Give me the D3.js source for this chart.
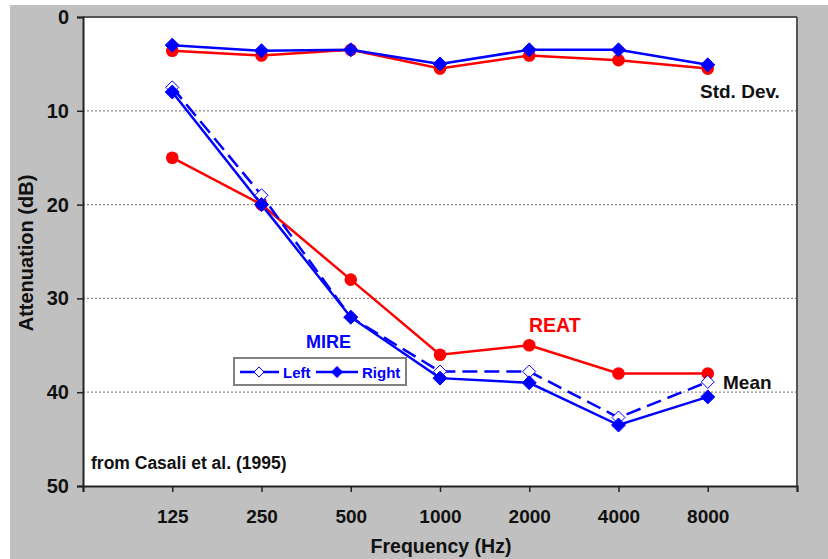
<!DOCTYPE html>
<html>
<head>
<meta charset="utf-8">
<script src="https://cdn.jsdelivr.net/npm/d3@7"></script>
<style>
  html, body { margin: 0; padding: 0; background: #fff; }
  svg { display: block; }
  text { font-family: "Liberation Sans", Arial, sans-serif; font-weight: bold; }
</style>
</head>
<body>
<svg id="chart" width="828" height="559"></svg>
<script>
// ---- data ----
const categories = ["125", "250", "500", "1000", "2000", "4000", "8000"];
const yTicks = [0, 10, 20, 30, 40, 50];
const reatMean = [15, 20, 28, 36, 35, 38, 38];
const mireLeftMean = [7.5, 19, 32, 37.8, 37.8, 42.7, 38.9];
const mireRightMean = [8, 20, 32, 38.5, 39, 43.5, 40.5];
const reatSD = [3.6, 4.1, 3.5, 5.5, 4.1, 4.6, 5.5];
const mireSD = [3, 3.6, 3.5, 5, 3.5, 3.5, 5.1];

(function () {
const svg = d3.select("#chart");
const W = 828, H = 559;
const pL = 83, pR = 797, pT = 17, pB = 486;
const BLUE = "#0000ff", RED = "#ff0000";

// background
svg.append("rect").attr("x", 0).attr("y", 0).attr("width", W).attr("height", H).attr("fill", "#fff");
svg.append("rect").attr("x", 10).attr("y", 5).attr("width", W - 10).attr("height", H - 5).attr("fill", "#c0c0c0");
svg.append("rect").attr("x", pL).attr("y", pT).attr("width", pR - pL).attr("height", pB - pT).attr("fill", "#fff");

// scales
const x = d3.scaleLinear().domain([0, 8]).range([pL, pR]);
const y = d3.scaleLinear().domain([0, 50]).range([pT, pB]);
const xi = i => x(i + 1);

// grid
svg.append("g").selectAll("line").data([10, 20, 30, 40]).join("line")
  .attr("x1", pL).attr("x2", pR)
  .attr("y1", d => y(d)).attr("y2", d => y(d))
  .attr("stroke", "#8a8a8a").attr("stroke-width", 1.2).attr("stroke-dasharray", "2,2");

// border top/right
svg.append("line").attr("x1", pL).attr("x2", pR).attr("y1", pT).attr("y2", pT)
  .attr("stroke", "#555").attr("stroke-width", 2);
svg.append("line").attr("x1", pR).attr("x2", pR).attr("y1", pT).attr("y2", pB)
  .attr("stroke", "#555").attr("stroke-width", 2);

// y axis
const yAxis = d3.axisLeft(y).tickValues(yTicks).tickSize(6).tickPadding(8).tickFormat(d3.format("d"));
const gy = svg.append("g").attr("transform", `translate(${pL},0)`).call(yAxis);
gy.select(".domain").attr("stroke", "#222").attr("stroke-width", 2);
gy.selectAll(".tick line").attr("stroke", "#222").attr("stroke-width", 1.5);
gy.selectAll(".tick text").attr("font-size", 20).attr("fill", "#111")
  .style("font-family", "'Liberation Sans', Arial, sans-serif").style("font-weight", "bold");

// x axis
const xAxis = d3.axisBottom(x).ticks(8).tickSize(6).tickPadding(18)
  .tickFormat(d => (d >= 1 && d <= 7) ? categories[d - 1] : "");
const gx = svg.append("g").attr("transform", `translate(0,${pB})`).call(xAxis);
gx.select(".domain").attr("stroke", "#222").attr("stroke-width", 2);
gx.selectAll(".tick line").attr("stroke", "#222").attr("stroke-width", 1.5);
gx.selectAll(".tick text").attr("font-size", 19).attr("fill", "#111")
  .style("font-family", "'Liberation Sans', Arial, sans-serif").style("font-weight", "bold");

// axis titles
svg.append("text").attr("x", 441).attr("y", 553).attr("text-anchor", "middle")
  .attr("font-size", 19.5).attr("fill", "#111").text("Frequency (Hz)");
svg.append("text").attr("transform", "translate(33,253) rotate(-90)").attr("text-anchor", "middle")
  .attr("font-size", 20).attr("fill", "#111").text("Attenuation (dB)");

// lines
const line = d3.line().x((d, i) => xi(i)).y(d => y(d));
function drawSeries(vals, color, dash) {
  svg.append("path").datum(vals).attr("d", line).attr("fill", "none")
    .attr("stroke", color).attr("stroke-width", 2.5)
    .attr("stroke-dasharray", dash || null);
}
const diamond = (cx, cy, r) => `M${cx},${cy - r}L${cx + r},${cy}L${cx},${cy + r}L${cx - r},${cy}Z`;

drawSeries(reatSD, RED);
drawSeries(mireSD, BLUE);
drawSeries(reatMean, RED);
drawSeries(mireLeftMean, BLUE, "15,7");
drawSeries(mireRightMean, BLUE);

function circles(vals) {
  svg.append("g").selectAll("circle").data(vals).join("circle")
    .attr("cx", (d, i) => xi(i)).attr("cy", d => y(d)).attr("r", 6.3).attr("fill", RED);
}
function diamonds(vals, filled) {
  svg.append("g").selectAll("path").data(vals).join("path")
    .attr("d", (d, i) => diamond(xi(i), y(d), filled ? 7 : 6.5))
    .attr("fill", filled ? BLUE : "#fff").attr("stroke", BLUE).attr("stroke-width", 1);
}
circles(reatSD);
diamonds(mireSD, true);
circles(reatMean);
diamonds(mireLeftMean, false);
diamonds(mireRightMean, true);

// annotations
svg.append("text").attr("x", 700).attr("y", 98).attr("font-size", 19).attr("fill", "#111").text("Std. Dev.");
svg.append("text").attr("x", 723).attr("y", 389).attr("font-size", 19).attr("fill", "#111").text("Mean");
svg.append("text").attr("x", 529).attr("y", 332).attr("font-size", 19.5).attr("fill", RED).text("REAT");
svg.append("text").attr("x", 306).attr("y", 348).attr("font-size", 18).attr("fill", BLUE).text("MIRE");
svg.append("text").attr("x", 91).attr("y", 469).attr("font-size", 17.5).attr("fill", "#111").text("from Casali et al. (1995)");

// legend
const lg = svg.append("g");
lg.append("rect").attr("x", 234).attr("y", 358).attr("width", 172).attr("height", 27)
  .attr("fill", "#fff").attr("stroke", "#808080").attr("stroke-width", 2);
lg.append("line").attr("x1", 240).attr("x2", 279).attr("y1", 372).attr("y2", 372).attr("stroke", BLUE).attr("stroke-width", 2.5);
lg.append("path").attr("d", diamond(259, 372, 5)).attr("fill", "#fff").attr("stroke", BLUE).attr("stroke-width", 1);
lg.append("text").attr("x", 283).attr("y", 378).attr("font-size", 15).attr("fill", BLUE).text("Left");
lg.append("line").attr("x1", 316).attr("x2", 358).attr("y1", 372).attr("y2", 372).attr("stroke", BLUE).attr("stroke-width", 2.5);
lg.append("path").attr("d", diamond(337, 372, 5.5)).attr("fill", BLUE).attr("stroke", BLUE);
lg.append("text").attr("x", 362).attr("y", 378).attr("font-size", 15).attr("fill", BLUE).text("Right");
})();
</script>
</body>
</html>
